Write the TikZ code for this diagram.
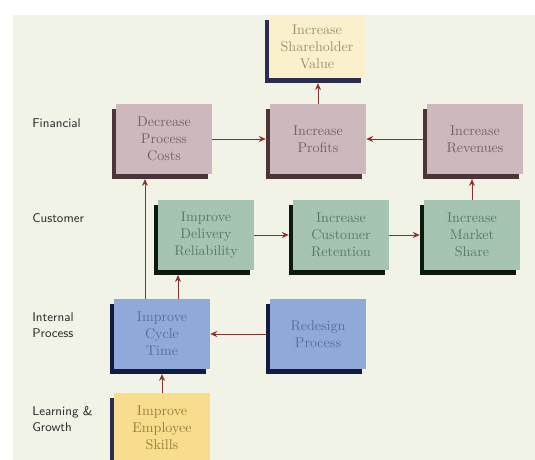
\documentclass[tikz,border=0pt]{standalone}
\usepackage{xcolor}
\usepackage{tikz}
\usetikzlibrary{arrows.meta,shadows,calc}
\definecolor{panelbg}{RGB}{241,243,230}
\definecolor{finfill}{RGB}{205,184,189}
\definecolor{finshade}{RGB}{74,54,56}
\definecolor{fintext}{RGB}{118,98,102}
\definecolor{cusfill}{RGB}{166,196,178}
\definecolor{cusshade}{RGB}{12,26,14}
\definecolor{custext}{RGB}{92,120,104}
\definecolor{intfill}{RGB}{143,170,216}
\definecolor{intshade}{RGB}{18,26,66}
\definecolor{inttext}{RGB}{88,110,156}
\definecolor{lrnfill}{RGB}{249,221,142}
\definecolor{lrnshade}{RGB}{44,44,80}
\definecolor{lrntext}{RGB}{150,124,62}
\definecolor{shrfill}{RGB}{251,240,204}
\definecolor{shrtext}{RGB}{160,142,110}
\definecolor{flowred}{RGB}{140,48,48}
\definecolor{labelgrey}{RGB}{45,45,45}
\tikzset{
  kpibox/.style={rectangle, minimum width=2.4cm, minimum height=1.75cm, text width=2.25cm, align=center, font=\normalsize, inner sep=2pt},
  finbox/.style={kpibox, fill=finfill, text=fintext, general shadow={shadow xshift=-0.1cm, shadow yshift=-0.12cm, fill=finshade}},
  cusbox/.style={kpibox, fill=cusfill, text=custext, general shadow={shadow xshift=-0.1cm, shadow yshift=-0.12cm, fill=cusshade}},
  intbox/.style={kpibox, fill=intfill, text=inttext, general shadow={shadow xshift=-0.1cm, shadow yshift=-0.12cm, fill=intshade}},
  lrnbox/.style={kpibox, fill=lrnfill, text=lrntext, general shadow={shadow xshift=-0.1cm, shadow yshift=-0.12cm, fill=lrnshade}},
  shrbox/.style={kpibox, minimum height=1.58cm, fill=shrfill, text=shrtext, general shadow={shadow xshift=-0.1cm, shadow yshift=-0.12cm, fill=lrnshade}},
  persp/.style={font=\sffamily\small, text=labelgrey, align=left, anchor=west, inner sep=0pt},
  flow/.style={-{Stealth[length=1.7mm,width=1.5mm]}, line width=0.7pt, flowred}
}
\begin{document}
\begin{tikzpicture}[x=0.025cm, y=-0.025cm]
\clip (0,0) rectangle (535,460);
\fill[panelbg] (13,15) rectangle (545,470);

% perspectives
\node[persp] (lfin) at (32,123) {Financial};
\node[persp] (lcus) at (32,218) {Customer};
\node[persp] (lint) at (32,325) {Internal\\Process};
\node[persp] (llrn) at (32,419) {Learning \&\\Growth};

% boxes
\node[shrbox] (share) at (317,46.5) {Increase\\Shareholder\\Value};
\node[finbox] (costs) at (164,139) {Decrease\\Process\\Costs};
\node[finbox] (profits) at (318,139) {Increase\\Profits};
\node[finbox] (revenues) at (475,139) {Increase\\Revenues};
\node[cusbox, minimum width=2.3cm] (delivery) at (206,235) {Improve\\Delivery\\Reliability};
\node[cusbox] (retention) at (341,235) {Increase\\Customer\\Retention};
\node[cusbox] (market) at (472,235) {Increase\\Market\\Share};
\node[intbox] (cycle) at (162,334) {Improve\\Cycle\\Time};
\node[intbox] (redesign) at (318,334) {Redesign\\Process};
\node[lrnbox] (skills) at (162,428) {Improve\\Employee\\Skills};

\coordinate (cyc-l) at ($(cycle.north)+(-17,0)$);
\coordinate (cyc-r) at ($(cycle.north)+(16,0)$);

% links
\draw[flow, shorten >=0.12cm] (profits.north) -- (profits.north |- share.south);
\draw[flow, shorten >=0.1cm] (costs.east) -- (profits.west);
\draw[flow, shorten <=0.1cm] (revenues.west) -- (profits.east);
\draw[flow, shorten >=0.12cm] (market.north) -- (market.north |- revenues.south);
\draw[flow, shorten >=0.1cm] (delivery.east) -- (retention.west);
\draw[flow, shorten >=0.1cm] (retention.east) -- (market.west);
\draw[flow, shorten >=0.12cm] (cyc-l) -- (cyc-l |- costs.south);
\draw[flow, shorten >=0.12cm] (cyc-r) -- (cyc-r |- delivery.south);
\draw[flow, shorten <=0.1cm] (redesign.west) -- (cycle.east);
\draw[flow, shorten >=0.12cm] (skills.north) -- (cycle.south);
\end{tikzpicture}
\end{document}
